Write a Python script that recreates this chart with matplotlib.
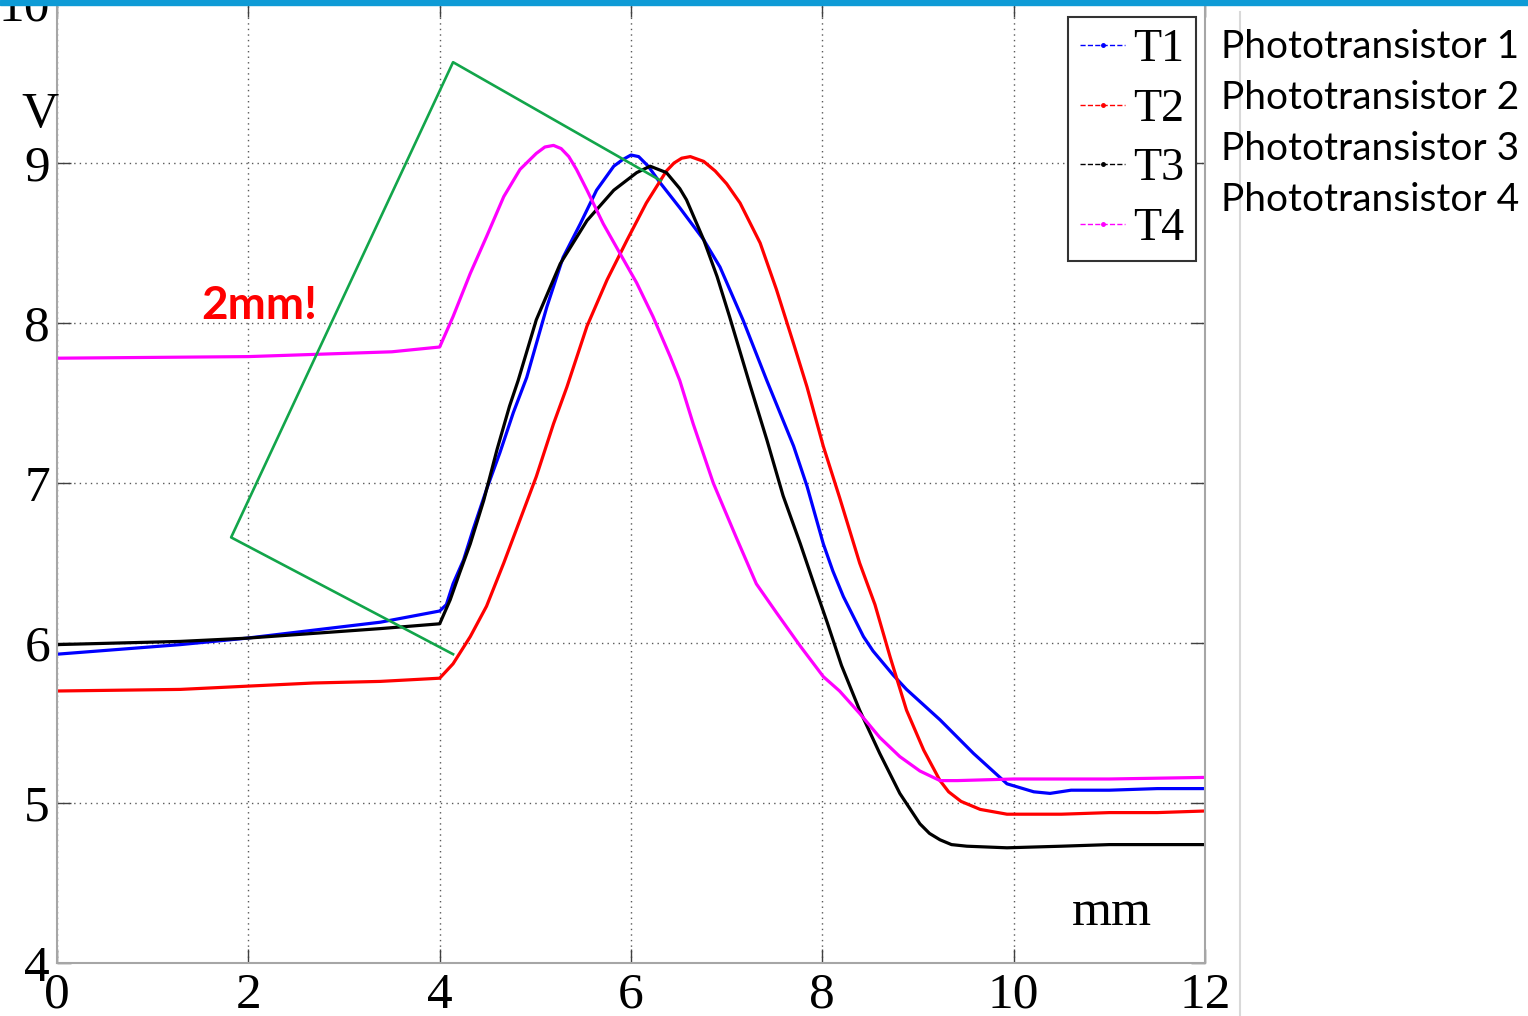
import matplotlib
matplotlib.use("Agg")
import matplotlib.pyplot as plt
from matplotlib.lines import Line2D
from matplotlib.patches import Rectangle

# data (mm, V)
t1_x = [0, 1.29, 1.98, 2.68, 3.38, 4.0, 4.07, 4.14, 4.25, 4.35, 4.49, 4.63, 4.77, 4.91, 5.12, 5.29, 5.47,
        5.64, 5.82, 5.91, 6.0, 6.08, 6.18, 6.30, 6.51, 6.76, 6.93, 7.17, 7.42, 7.70, 7.84, 8.01, 8.11, 8.22,
        8.43, 8.53, 8.74, 8.88, 9.23, 9.58, 9.93, 10.21, 10.38, 10.6, 11.0, 11.5, 12.0]
t1_y = [5.93, 5.99, 6.03, 6.08, 6.13, 6.20, 6.24, 6.37, 6.52, 6.71, 6.96, 7.19, 7.44, 7.66, 8.10, 8.41, 8.62,
        8.83, 8.98, 9.02, 9.05, 9.04, 8.98, 8.88, 8.72, 8.52, 8.35, 8.02, 7.64, 7.23, 6.98, 6.62, 6.45, 6.29,
        6.04, 5.95, 5.80, 5.71, 5.52, 5.31, 5.12, 5.07, 5.06, 5.08, 5.08, 5.09, 5.09]

t2_x = [0, 1.29, 1.98, 2.68, 3.38, 4.0, 4.14, 4.32, 4.49, 4.67, 4.84, 5.01, 5.19, 5.33, 5.54, 5.75, 5.96,
        6.16, 6.37, 6.45, 6.53, 6.62, 6.76, 6.88, 7.0, 7.14, 7.35, 7.52, 7.70, 7.84, 8.01, 8.18, 8.39, 8.55,
        8.71, 8.88, 9.06, 9.23, 9.32, 9.45, 9.65, 9.93, 10.5, 11.0, 11.5, 12.0]
t2_y = [5.70, 5.71, 5.73, 5.75, 5.76, 5.78, 5.87, 6.04, 6.23, 6.50, 6.77, 7.04, 7.37, 7.60, 7.98, 8.27, 8.52,
        8.75, 8.95, 9.00, 9.03, 9.04, 9.01, 8.95, 8.87, 8.75, 8.50, 8.21, 7.87, 7.60, 7.23, 6.91, 6.50, 6.24,
        5.91, 5.58, 5.33, 5.14, 5.07, 5.01, 4.96, 4.93, 4.93, 4.94, 4.94, 4.95]

t3_x = [0, 1.29, 1.98, 2.68, 3.38, 4.0, 4.11, 4.21, 4.32, 4.46, 4.60, 4.73, 4.82, 5.01, 5.26, 5.54, 5.82,
        6.06, 6.20, 6.37, 6.51, 6.58, 6.76, 6.90, 7.03, 7.24, 7.42, 7.59, 7.77, 7.94, 8.05, 8.20, 8.39, 8.60,
        8.81, 9.02, 9.12, 9.23, 9.35, 9.51, 9.93, 10.5, 11.0, 12.0]
t3_y = [5.99, 6.01, 6.03, 6.06, 6.09, 6.12, 6.27, 6.44, 6.62, 6.89, 7.21, 7.48, 7.64, 8.02, 8.37, 8.64, 8.83,
        8.94, 8.98, 8.94, 8.84, 8.77, 8.52, 8.29, 8.04, 7.62, 7.27, 6.92, 6.62, 6.32, 6.13, 5.86, 5.58, 5.31,
        5.06, 4.87, 4.81, 4.77, 4.74, 4.73, 4.72, 4.73, 4.74, 4.74]

t4_x = [0, 2, 3.5, 4.0, 4.14, 4.32, 4.49, 4.67, 4.84, 5.01, 5.10, 5.19, 5.27, 5.35, 5.43, 5.54, 5.71, 5.88,
        6.06, 6.23, 6.41, 6.51, 6.65, 6.86, 7.10, 7.31, 7.52, 7.77, 8.01, 8.18, 8.39, 8.60, 8.81, 9.02, 9.23,
        9.41, 10.0, 11.0, 12.0]
t4_y = [7.78, 7.79, 7.82, 7.85, 8.04, 8.31, 8.54, 8.79, 8.96, 9.06, 9.10, 9.11, 9.09, 9.04, 8.96, 8.83, 8.62,
        8.44, 8.25, 8.04, 7.79, 7.64, 7.37, 7.00, 6.66, 6.37, 6.19, 5.98, 5.79, 5.70, 5.56, 5.41, 5.29, 5.20,
        5.14, 5.14, 5.15, 5.15, 5.16]

labels = ["T1", "T2", "T3", "T4"]
colors = ["#0000ff", "#ff0000", "#000000", "#ff00ff"]
names = ["Phototransistor 1", "Phototransistor 2", "Phototransistor 3", "Phototransistor 4"]

# hand drawn green outline
green_x = [6.31, 4.14, 1.82, 4.14]
green_y = [8.89, 9.63, 6.66, 5.93]

xticks = [0, 2, 4, 6, 8, 10, 12]
yticks = [4, 5, 6, 7, 8, 9, 10]

serif = "Liberation Serif"

fig = plt.figure(figsize=(15.28, 10.16), dpi=100)
ax = fig.add_axes([57/1528, 53/1016, 1148/1528, 960/1016])

series = [(t1_x, t1_y), (t2_x, t2_y), (t3_x, t3_y), (t4_x, t4_y)]
for (x, y), c in zip(series, colors):
    ax.plot(x, y, color=c, lw=2.3, solid_joinstyle="round")

ax.plot(green_x, green_y, color="#12a54a", lw=1.9, zorder=5)

ax.set_xlim(0, 12)
ax.set_ylim(4, 10)
ax.set_xticks(xticks)
ax.set_yticks(yticks)
ax.set_xticklabels([str(t) for t in xticks], fontfamily=serif, fontsize=37)
ax.set_yticklabels([str(t) for t in yticks], fontfamily=serif, fontsize=37)
ax.tick_params(direction="in", length=10, width=1, color="0.25", top=True, right=True)
ax.tick_params(axis="x", pad=6.5)
ax.tick_params(axis="y", pad=5)
ax.grid(True, linestyle=(0, (1, 3)), color="0.35", lw=1)
for s in ["left", "bottom", "right"]:
    ax.spines[s].set_color("0.65")
    ax.spines[s].set_linewidth(1.5)
ax.spines["top"].set_visible(False)

fig.text(40/1528, 1 - 115/1016, "V", fontfamily=serif, fontsize=37, ha="center", va="center")
fig.text(1112/1528, 1 - 913/1016, "mm", fontfamily=serif, fontsize=37, ha="center", va="center")
fig.text(259/1528, 1 - 306/1016, "2mm!", fontfamily="Lato", fontweight="bold", fontsize=33,
         color="#ff0000", ha="center", va="center")

handles = [Line2D([], [], color=c, ls="--", lw=1, marker=".", markersize=5) for c in colors]
leg = ax.legend(handles, labels, loc="upper right", bbox_to_anchor=(0.992, 0.985), borderaxespad=0,
                prop={"family": serif, "size": 33}, handlelength=1.0, handletextpad=0.17,
                labelspacing=0.37, borderpad=0.25, numpoints=1, fancybox=False, framealpha=1,
                edgecolor="0.2")
leg.get_frame().set_linewidth(1.5)

for i, n in enumerate(names):
    fig.text(1221/1528, 1 - (47 + 51*i)/1016, n, fontfamily="Lato", fontsize=28, ha="left", va="center")

# slide decoration: blue bar and divider line
fig.patches.append(Rectangle((0, 1 - 5/1016), 1, 5/1016, transform=fig.transFigure,
                             color="#0e9bd6", zorder=10))
fig.add_artist(Line2D([1240/1528, 1240/1528], [0, 1 - 12/1016], transform=fig.transFigure,
                      color="0.85", lw=1.5))

fig.savefig("out.png", dpi=100)
